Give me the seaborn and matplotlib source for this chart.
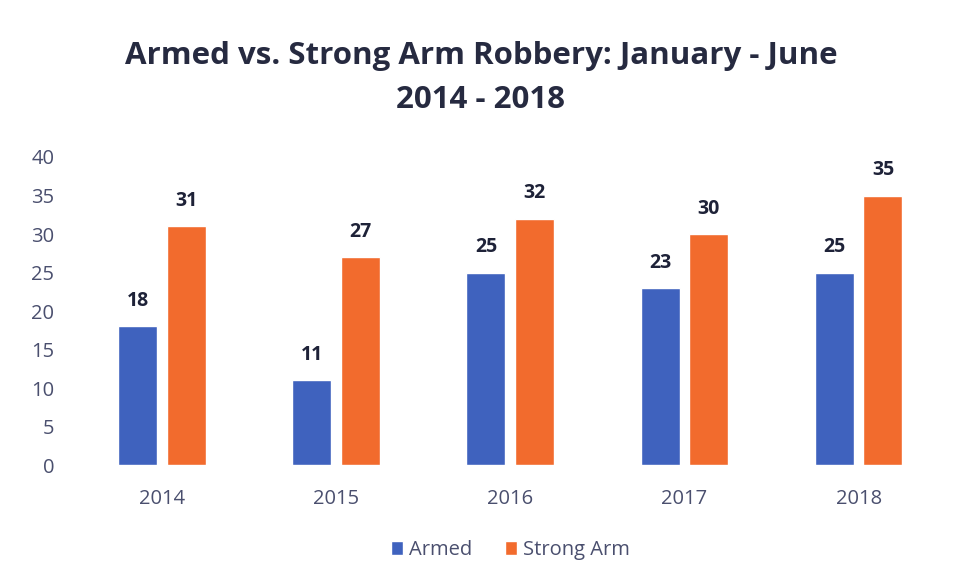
import matplotlib
matplotlib.use("Agg")
import matplotlib.pyplot as plt
import seaborn as sns
import pandas as pd

years = ["2014", "2015", "2016", "2017", "2018"]
armed = [18, 11, 25, 23, 25]
strong_arm = [31, 27, 32, 30, 35]
series_names = ["Armed", "Strong Arm"]
colors = ["#3F62BE", "#F26B2D"]

df = pd.DataFrame({
    "Year": years * 2,
    "Count": armed + strong_arm,
    "Type": [series_names[0]] * len(years) + [series_names[1]] * len(years),
})

sns.set_theme(style="white")
plt.rcParams["font.family"] = ["Open Sans", "DejaVu Sans"]

fig = plt.figure(figsize=(9.62, 5.88), dpi=100)
ax = fig.add_axes([0.078, 0.209, 0.905, 0.524])

sns.barplot(data=df, x="Year", y="Count", hue="Type", palette=colors,
            width=0.56, gap=0.2, ax=ax, legend=True, saturation=1)

ax.set_ylim(0, 40)
ax.set_xlim(-0.5, 4.5)
ax.set_yticks(range(0, 41, 5))
ax.set_xlabel("")
ax.set_ylabel("")
for s in ax.spines.values():
    s.set_visible(False)
ax.tick_params(axis="both", length=0, labelsize=14.5, colors="#4a4f6e")
ax.tick_params(axis="x", pad=17)
ax.tick_params(axis="y", pad=15)

for cont in ax.containers:
    ax.bar_label(cont, fmt="%d", padding=11, fontsize=14, fontweight="bold",
                 color="#1e2238")

leg = ax.legend(loc="center", bbox_to_anchor=(0.5, -0.275), ncol=2,
                frameon=False, fontsize=14.5, handlelength=0.6, handleheight=0.7,
                handletextpad=0.3, columnspacing=1.6)
for t in leg.get_texts():
    t.set_color("#4a4f6e")

fig.text(0.5, 0.905, "Armed vs. Strong Arm Robbery: January - June",
         ha="center", va="center", fontsize=22.5, fontweight="bold", color="#262a40")
fig.text(0.5, 0.83, "2014 - 2018", ha="center", va="center", fontsize=22.5,
         fontweight="bold", color="#262a40")

fig.savefig("out.png", dpi=100)
